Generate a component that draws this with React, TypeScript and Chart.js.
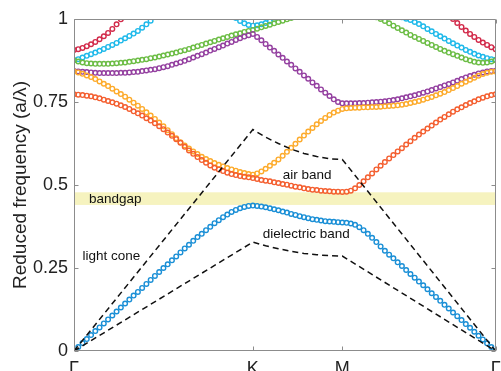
import React, { useEffect, useRef } from 'react';
import { Chart, registerables } from 'chart.js';

Chart.register(...registerables);

// k-path sample positions for the high-symmetry points and their labels
const kTickIndex = [0, 42, 63, 99];
const kTickLabels = ['Γ', 'K', 'M', 'Γ'];
const yTickValues = [0, 0.25, 0.5, 0.75, 1];

// band values (reduced frequency a/λ) at k-samples 0..99
const dielectricBand = [
  0.000, 0.012, 0.024, 0.036, 0.048, 0.060, 0.071, 0.083, 0.095, 0.107,
  0.119, 0.131, 0.143, 0.155, 0.167, 0.178, 0.190, 0.202, 0.214, 0.226,
  0.238, 0.250, 0.261, 0.273, 0.285, 0.297, 0.309, 0.320, 0.332, 0.343,
  0.353, 0.364, 0.374, 0.385, 0.394, 0.403, 0.411, 0.419, 0.425, 0.430,
  0.434, 0.437, 0.438, 0.437, 0.435, 0.433, 0.430, 0.427, 0.424, 0.420,
  0.417, 0.413, 0.410, 0.406, 0.403, 0.400, 0.397, 0.395, 0.393, 0.391,
  0.390, 0.389, 0.388, 0.387, 0.386, 0.384, 0.380, 0.373, 0.364, 0.353,
  0.341, 0.328, 0.315, 0.302, 0.290, 0.279, 0.267, 0.256, 0.244, 0.232,
  0.221, 0.209, 0.198, 0.186, 0.174, 0.163, 0.151, 0.139, 0.128, 0.116,
  0.105, 0.093, 0.081, 0.070, 0.058, 0.046, 0.035, 0.023, 0.012, 0.000,
];

const airBand = [
  0.773, 0.772, 0.771, 0.769, 0.767, 0.764, 0.761, 0.757, 0.753, 0.749,
  0.745, 0.740, 0.735, 0.729, 0.722, 0.716, 0.709, 0.701, 0.694, 0.686,
  0.677, 0.668, 0.658, 0.648, 0.638, 0.627, 0.615, 0.604, 0.594, 0.584,
  0.575, 0.567, 0.559, 0.552, 0.547, 0.542, 0.537, 0.533, 0.530, 0.527,
  0.525, 0.523, 0.521, 0.518, 0.515, 0.513, 0.511, 0.508, 0.506, 0.503,
  0.501, 0.498, 0.495, 0.493, 0.490, 0.488, 0.486, 0.485, 0.483, 0.482,
  0.481, 0.480, 0.480, 0.479, 0.480, 0.483, 0.490, 0.500, 0.511, 0.523,
  0.535, 0.547, 0.558, 0.569, 0.580, 0.590, 0.601, 0.611, 0.622, 0.632,
  0.642, 0.652, 0.661, 0.670, 0.679, 0.688, 0.697, 0.705, 0.713, 0.721,
  0.728, 0.734, 0.741, 0.747, 0.752, 0.758, 0.763, 0.767, 0.771, 0.773,
];

const band3 = [
  0.842, 0.839, 0.835, 0.830, 0.825, 0.819, 0.812, 0.805, 0.798, 0.790,
  0.782, 0.774, 0.766, 0.757, 0.748, 0.739, 0.729, 0.719, 0.709, 0.699,
  0.688, 0.677, 0.665, 0.653, 0.641, 0.629, 0.619, 0.610, 0.601, 0.593,
  0.585, 0.578, 0.572, 0.566, 0.561, 0.556, 0.551, 0.547, 0.543, 0.539,
  0.536, 0.533, 0.531, 0.535, 0.541, 0.549, 0.558, 0.567, 0.577, 0.588,
  0.600, 0.612, 0.624, 0.637, 0.649, 0.661, 0.672, 0.683, 0.693, 0.702,
  0.711, 0.718, 0.724, 0.729, 0.731, 0.732, 0.733, 0.733, 0.734, 0.734,
  0.735, 0.735, 0.736, 0.737, 0.738, 0.739, 0.740, 0.742, 0.744, 0.747,
  0.750, 0.753, 0.757, 0.761, 0.765, 0.770, 0.775, 0.780, 0.786, 0.792,
  0.798, 0.805, 0.811, 0.817, 0.823, 0.829, 0.834, 0.838, 0.841, 0.842,
];

const band4 = [
  0.843, 0.842, 0.841, 0.840, 0.839, 0.838, 0.837, 0.837, 0.837, 0.837,
  0.837, 0.838, 0.838, 0.839, 0.840, 0.841, 0.843, 0.845, 0.847, 0.849,
  0.852, 0.855, 0.858, 0.862, 0.866, 0.870, 0.874, 0.879, 0.884, 0.889,
  0.894, 0.899, 0.905, 0.910, 0.915, 0.920, 0.926, 0.931, 0.937, 0.942,
  0.947, 0.951, 0.955, 0.946, 0.936, 0.925, 0.914, 0.904, 0.893, 0.883,
  0.872, 0.862, 0.851, 0.841, 0.830, 0.820, 0.809, 0.799, 0.788, 0.778,
  0.768, 0.758, 0.750, 0.746, 0.746, 0.746, 0.746, 0.747, 0.747, 0.748,
  0.749, 0.750, 0.751, 0.752, 0.754, 0.756, 0.758, 0.761, 0.764, 0.767,
  0.770, 0.774, 0.778, 0.782, 0.786, 0.791, 0.795, 0.800, 0.804, 0.809,
  0.814, 0.819, 0.824, 0.828, 0.832, 0.836, 0.839, 0.842, 0.843, 0.844,
];

const band5 = [
  0.876, 0.872, 0.869, 0.867, 0.866, 0.865, 0.865, 0.865, 0.865, 0.866,
  0.867, 0.868, 0.869, 0.871, 0.873, 0.875, 0.877, 0.879, 0.882, 0.884,
  0.887, 0.890, 0.893, 0.896, 0.899, 0.903, 0.906, 0.910, 0.914, 0.918,
  0.922, 0.926, 0.930, 0.934, 0.938, 0.942, 0.946, 0.950, 0.954, 0.957,
  0.961, 0.964, 0.967, 0.971, 0.975, 0.979, 0.983, 0.987, 0.991, 0.995,
  0.999, 1.003, 1.007, 1.011, 1.015, 1.019, 1.022, 1.025, 1.028, 1.030,
  1.032, 1.034, 1.035, 1.035, 1.034, 1.032, 1.029, 1.025, 1.020, 1.015,
  1.010, 1.005, 1.000, 0.994, 0.987, 0.980, 0.973, 0.966, 0.959, 0.952,
  0.946, 0.940, 0.934, 0.928, 0.922, 0.916, 0.910, 0.904, 0.899, 0.894,
  0.889, 0.884, 0.879, 0.875, 0.871, 0.869, 0.868, 0.869, 0.872, 0.876,
];

const band6 = [
  0.876, 0.879, 0.884, 0.889, 0.894, 0.899, 0.904, 0.910, 0.916, 0.922,
  0.928, 0.935, 0.942, 0.949, 0.956, 0.964, 0.974, 0.984, 0.995, 1.006,
  1.016, 1.025, 1.033, 1.040, 1.046, 1.051, 1.055, 1.058, 1.060, 1.061,
  1.060, 1.058, 1.054, 1.048, 1.040, 1.031, 1.022, 1.012, 1.003, 0.994,
  0.987, 0.982, 0.980, 0.981, 0.984, 0.988, 0.993, 0.999, 1.005, 1.012,
  1.019, 1.026, 1.032, 1.038, 1.043, 1.048, 1.052, 1.055, 1.058, 1.060,
  1.061, 1.062, 1.062, 1.061, 1.060, 1.058, 1.055, 1.052, 1.048, 1.044,
  1.040, 1.035, 1.030, 1.025, 1.020, 1.015, 1.010, 1.005, 1.001, 0.997,
  0.991, 0.985, 0.978, 0.970, 0.963, 0.955, 0.948, 0.941, 0.934, 0.927,
  0.920, 0.914, 0.907, 0.901, 0.895, 0.890, 0.886, 0.882, 0.879, 0.877,
];

const band7 = [
  0.907, 0.909, 0.913, 0.918, 0.924, 0.931, 0.939, 0.948, 0.958, 0.970,
  0.984, 0.999, 1.014, null, null, null, null, null, null, null,
  null, null, null, null, null, null, null, null, null, null,
  null, null, null, null, null, null, null, null, null, null,
  null, null, null, null, null, null, null, null, null, null,
  null, null, null, null, null, null, null, null, null, null,
  null, null, null, null, null, null, null, null, null, null,
  null, null, null, null, null, null, null, null, null, null,
  null, null, null, null, null, null, null, null, 1.013, 1.000,
  0.988, 0.976, 0.965, 0.955, 0.946, 0.937, 0.929, 0.922, 0.915, 0.909,
];

// light lines (dashed): sample positions and values
const coneIndex = [0, 42, 45, 48, 51, 54, 57, 60, 63, 99];
const airLightCone = [0, 0.667, 0.644, 0.625, 0.608, 0.595, 0.586, 0.579, 0.577, 0];
const dielectricLightCone = [0, 0.328, 0.317, 0.308, 0.300, 0.294, 0.290, 0.287, 0.286, 0];

// photonic band gap range
const bandgap = [0.440, 0.478];

const bandColors = ['#1a8fd6', '#f45f30', '#fdab2c', '#9440a0', '#6cbd45', '#1fb9ea', '#d22a4a'];
const bandSeries = [dielectricBand, airBand, band3, band4, band5, band6, band7];

const FONT = '"Liberation Sans", Arial, Helvetica, sans-serif';

const notes = [
  { text: 'bandgap', k: 3.5, f: 0.447 },
  { text: 'air band', k: 49.0, f: 0.517 },
  { text: 'dielectric band', k: 44.3, f: 0.340 },
  { text: 'light cone', k: 2.0, f: 0.275 },
];

const framePlugin = {
  id: 'framePlugin',
  beforeDatasetsDraw(chart: any) {
    const { ctx, chartArea: a, scales } = chart;
    const y = scales.y;
    const top = y.getPixelForValue(bandgap[1]);
    const bot = y.getPixelForValue(bandgap[0]);
    ctx.save();
    ctx.fillStyle = '#f6f3bf';
    ctx.fillRect(a.left, top, a.right - a.left, bot - top);
    ctx.restore();
  },
  afterDatasetsDraw(chart: any) {
    const { ctx, chartArea: a, scales } = chart;
    const x = scales.x;
    const y = scales.y;
    ctx.save();
    ctx.strokeStyle = '#8c8c8c';
    ctx.lineWidth = 1;
    const L = Math.round(a.left) + 0.5;
    const R = Math.round(a.right) - 0.5;
    const T = Math.round(a.top) + 0.5;
    const B = Math.round(a.bottom) - 0.5;
    ctx.beginPath();
    ctx.moveTo(L, T); ctx.lineTo(R, T); ctx.lineTo(R, B); ctx.lineTo(L, B); ctx.closePath();
    const tl = 4;
    yTickValues.forEach((v) => {
      const py = Math.round(y.getPixelForValue(v)) + 0.5;
      ctx.moveTo(L, py); ctx.lineTo(L + tl, py);
      ctx.moveTo(R, py); ctx.lineTo(R - tl, py);
    });
    kTickIndex.forEach((k) => {
      const px = Math.round(x.getPixelForValue(k)) + 0.5;
      ctx.moveTo(px, B); ctx.lineTo(px, B - tl);
      ctx.moveTo(px, T); ctx.lineTo(px, T + tl);
    });
    ctx.stroke();

    ctx.fillStyle = '#111';
    ctx.font = `13.5px ${FONT}`;
    ctx.textAlign = 'left';
    ctx.textBaseline = 'alphabetic';
    notes.forEach((n) => {
      ctx.fillText(n.text, x.getPixelForValue(n.k), y.getPixelForValue(n.f));
    });
    ctx.restore();
  },
};

export default function App() {
  const canvasRef = useRef<HTMLCanvasElement | null>(null);

  useEffect(() => {
    const canvas = canvasRef.current;
    if (!canvas) return;

    const bandDatasets = bandSeries.map((series, bi) => ({
      label: `band ${bi + 1}`,
      data: series.map((v, i) => ({ x: i, y: v })),
      showLine: false,
      pointRadius: 2.3,
      pointBorderWidth: 1.4,
      pointBorderColor: bandColors[bi],
      pointBackgroundColor: 'rgba(255,255,255,0)',
      borderColor: bandColors[bi],
      backgroundColor: 'rgba(255,255,255,0)',
      order: 2,
    }));

    const coneDatasets = [airLightCone, dielectricLightCone].map((series, ci) => ({
      label: ci === 0 ? 'air light line' : 'dielectric light line',
      data: series.map((v, i) => ({ x: coneIndex[i], y: v })),
      showLine: true,
      borderColor: '#111',
      borderWidth: 1.5,
      borderDash: [6, 4],
      pointRadius: 0,
      tension: 0,
      order: 1,
    }));

    const chart = new Chart(canvas, {
      type: 'scatter',
      data: { datasets: [...coneDatasets, ...bandDatasets] as any },
      options: {
        animation: false,
        responsive: false,
        events: [],
        layout: { padding: { top: 19, right: 2, left: 0, bottom: 0 } },
        plugins: {
          legend: { display: false },
          tooltip: { enabled: false },
        },
        scales: {
          x: {
            type: 'linear',
            min: 0,
            max: 99,
            grid: { display: false, drawTicks: false },
            border: { display: false },
            afterBuildTicks: (scale: any) => {
              scale.ticks = kTickIndex.map((v) => ({ value: v }));
            },
            afterFit: (scale: any) => {
              scale.height = 20;
              scale.paddingLeft = 0;
              scale.paddingRight = 0;
            },
            ticks: {
              autoSkip: false,
              maxRotation: 0,
              padding: 7,
              color: '#222',
              font: { family: FONT, size: 18 },
              callback: (value: any) => {
                const i = kTickIndex.indexOf(Number(value));
                return i >= 0 ? kTickLabels[i] : '';
              },
            },
          },
          y: {
            type: 'linear',
            min: 0,
            max: 1,
            grid: { display: false, drawTicks: false },
            border: { display: false },
            afterBuildTicks: (scale: any) => {
              scale.ticks = yTickValues.map((v) => ({ value: v }));
            },
            afterFit: (scale: any) => {
              scale.width = 74;
            },
            ticks: {
              padding: 6,
              color: '#222',
              font: { family: FONT, size: 18 },
              callback: (value: any) => String(Number(value)),
            },
            title: {
              display: true,
              text: 'Reduced frequency (a/λ)',
              color: '#222',
              font: { family: FONT, size: 19 },
              padding: { top: 9, bottom: 0 },
            },
          },
        },
      },
      plugins: [framePlugin],
    });

    return () => chart.destroy();
  }, []);

  return (
    <div style={{ position: 'absolute', left: 0, top: 0, width: 501, height: 371 }}>
      <canvas ref={canvasRef} width={501} height={371} style={{ width: 501, height: 371 }} />
    </div>
  );
}
